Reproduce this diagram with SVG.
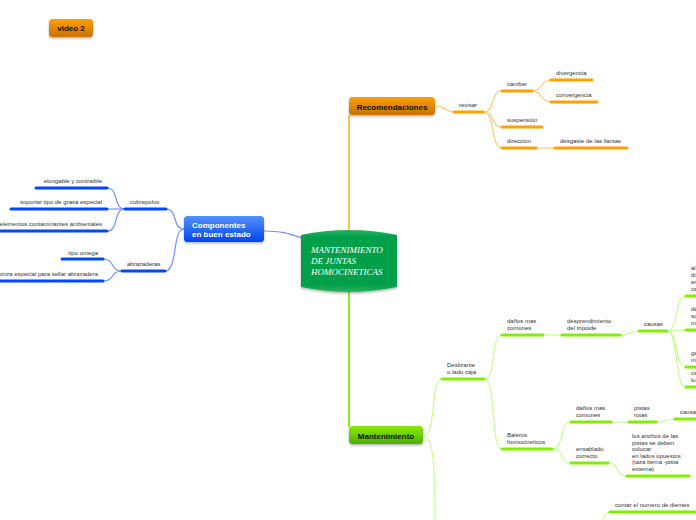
<svg xmlns="http://www.w3.org/2000/svg" width="696" height="520" viewBox="0 0 696 520">
<defs>
<linearGradient id="gOr" x1="0" y1="0" x2="0" y2="1"><stop offset="0" stop-color="#FFA000"/><stop offset="1" stop-color="#C87000"/></linearGradient>
<linearGradient id="gBl" x1="0" y1="0" x2="0" y2="1"><stop offset="0" stop-color="#5590FF"/><stop offset="1" stop-color="#0046E8"/></linearGradient>
<linearGradient id="gGr" x1="0" y1="0" x2="0" y2="1"><stop offset="0" stop-color="#8CEB00"/><stop offset="1" stop-color="#4CB000"/></linearGradient>
<linearGradient id="gC" x1="0" y1="0" x2="0" y2="1"><stop offset="0" stop-color="#2AB060"/><stop offset="0.12" stop-color="#00A04C"/><stop offset="0.88" stop-color="#00A04C"/><stop offset="1" stop-color="#2AB060"/></linearGradient>
<filter id="sh" x="-20%" y="-30%" width="140%" height="170%"><feDropShadow dx="0" dy="1.5" stdDeviation="1.2" flood-color="#000" flood-opacity="0.3"/></filter>
</defs>
<style>
text{font-family:"Liberation Sans",Arial,sans-serif}
.t{font-size:6px;fill:#333}
.n{font-size:8px;font-weight:bold}
.c{fill:none;stroke-width:1.2}
.u{fill:none;stroke-width:3;stroke-linecap:round}
.co{stroke:#FFC870}.uo{stroke:#FFA000}
.cb{stroke:#6E90FF}.ub{stroke:#0048FF}
.cg{stroke:#C6FF90}.ug{stroke:#80F000}
</style>
<g id="connectors">
<path class="c cb" d="M264,231 C284,231 290,234 302,238"/>
<path class="c cb" d="M184,229 C172,229 178,209 166,209"/>
<path class="c cb" d="M184,229 C172,229 178,271 165,271"/>
<path class="c cb" d="M125,209 C113,209 119,188 107,188"/>
<path class="c cb" d="M125,209 L107,209"/>
<path class="c cb" d="M125,209 C113,209 119,231 107,231"/>
<path class="c cb" d="M122,271 C110,271 115,259 103,259"/>
<path class="c cb" d="M122,271 C110,271 115,281 103,281"/>
<path fill="none" stroke="#FFB030" stroke-width="1.6" d="M349,115 L349,231"/>
<path class="c co" d="M435,106 C446,106 444,112 454,112"/>
<path class="c co" d="M483,112 C496,112 490,91 502,91"/>
<path class="c co" d="M483,112 C496,112 490,127 502,127"/>
<path class="c co" d="M483,112 C496,112 490,148 502,148"/>
<path class="c co" d="M532,91 C543,91 540,80 551,80"/>
<path class="c co" d="M532,91 C543,91 540,102 551,102"/>
<path class="c co" d="M536,148 L555,148"/>
<path fill="none" stroke="#88F020" stroke-width="2" d="M349,292 L349,427"/>
<path class="c cg" d="M423,436 C437,436 430,379 442,379"/>
<path class="c cg" d="M423,436 C434,436 435,470 435,520"/>
<path class="c cg" d="M484,379 C497,379 490,335 502,335"/>
<path class="c cg" d="M484,379 C497,379 490,449 502,449"/>
<path class="c cg" d="M543,335 L562,335"/>
<path class="c cg" d="M620,335 C630,335 630,331 639,331"/>
<path class="c cg" d="M667,331 C679,331 674,296 686,296"/>
<path class="c cg" d="M667,331 L686,330"/>
<path class="c cg" d="M667,331 C679,331 674,367 686,367"/>
<path class="c cg" d="M667,331 C679,331 674,387 686,387"/>
<path class="c cg" d="M552,449 C565,449 559,422 571,422"/>
<path class="c cg" d="M552,449 C565,449 559,463 571,463"/>
<path class="c cg" d="M611,422 L629,422"/>
<path class="c cg" d="M656,422 C666,422 665,419 675,419"/>
<path class="c cg" d="M608,463 C620,463 615,476 627,476"/>
<path class="c cg" d="M603,520 C605,514 606,512 610,512"/>
</g>
<g id="video2"><rect x="49" y="19" width="44" height="18" rx="3.5" fill="url(#gOr)" filter="url(#sh)"/><text class="n" x="71" y="31" text-anchor="middle" fill="#111">video 2</text></g>
<g id="central"><path d="M301,235 Q349,225 397,235 V287 Q349,297 301,287 Z" fill="url(#gC)" filter="url(#sh)"/>
<text x="311" y="253" font-family="Liberation Serif,serif" font-style="italic" font-size="9" fill="#fff" style="font-family:'Liberation Serif',serif">MANTENIMIENTO</text>
<text x="311" y="264" font-style="italic" font-size="9" fill="#fff" style="font-family:'Liberation Serif',serif">DE JUNTAS</text>
<text x="311" y="275" font-style="italic" font-size="9" fill="#fff" style="font-family:'Liberation Serif',serif">HOMOCINETICAS</text></g>
<g id="recomendaciones"><rect x="349" y="97" width="86" height="18" rx="3.5" fill="url(#gOr)" filter="url(#sh)"/><text class="n" x="392" y="110" text-anchor="middle" fill="#111">Recomendaciones</text></g>
<g id="componentes"><rect x="184" y="216" width="80" height="26" rx="3.5" fill="url(#gBl)" filter="url(#sh)"/><text class="n" x="192" y="227.5" fill="#fff">Componentes</text><text class="n" x="192" y="237" fill="#fff">en buen estado</text></g>
<g id="mantenimiento"><rect x="349" y="426" width="74" height="18" rx="3.5" fill="url(#gGr)" filter="url(#sh)"/><text class="n" x="386" y="438.5" text-anchor="middle" fill="#111">Mantenimiento</text></g>
<g id="cubrepolvo"><path class="u ub" d="M125,209 H166"/><text class="t" x="130" y="204">cubrepolvo</text></g>
<g id="elongable"><path class="u ub" d="M36,188 H107"/><text class="t" x="102" y="183" text-anchor="end">elongable y contraible</text></g>
<g id="soportar"><path class="u ub" d="M11,209 H107"/><text class="t" x="102" y="204" text-anchor="end">soportar tipo de grasa especial</text></g>
<g id="elementos"><path class="u ub" d="M-5,231 H107"/><text class="t" x="102" y="226" text-anchor="end">elementos contaminantes ambientales</text></g>
<g id="abrazaderas"><path class="u ub" d="M122,271 H165"/><text class="t" x="127" y="266">abrazaderas</text></g>
<g id="omega"><path class="u ub" d="M62,259 H103"/><text class="t" x="98" y="254.5" text-anchor="end">tipo omega</text></g>
<g id="pinza"><path class="u ub" d="M-5,281 H103"/><text class="t" x="98" y="276" text-anchor="end">pinza especial para sellar abrazadera</text></g>
<g id="revisar"><path class="u uo" d="M454,112 H483"/><text class="t" x="459" y="107">revisar</text></g>
<g id="camber"><path class="u uo" d="M502,91 H532"/><text class="t" x="507" y="85.5">camber</text></g>
<g id="divergencia"><path class="u uo" d="M551,80 H592"/><text class="t" x="556" y="75">divergencia</text></g>
<g id="convergencia"><path class="u uo" d="M551,102 H597"/><text class="t" x="556" y="97">convergencia</text></g>
<g id="suspension"><path class="u uo" d="M502,127 H542"/><text class="t" x="507" y="122">suspensión</text></g>
<g id="direccion"><path class="u uo" d="M502,148 H536"/><text class="t" x="507" y="143">dirección</text></g>
<g id="desgaste"><path class="u uo" d="M555,148 H627"/><text class="t" x="560" y="143">desgaste de las llantas</text></g>
<g id="deslizante"><path class="u ug" d="M442,379 H484"/><text class="t" x="447" y="367">Deslizante</text><text class="t" x="447" y="374">o lado caja</text></g>
<g id="danos1"><path class="u ug" d="M502,335 H543"/><text class="t" x="507" y="323">daños mas</text><text class="t" x="507" y="330">comunes</text></g>
<g id="desprendimiento"><path class="u ug" d="M562,335 H620"/><text class="t" x="567" y="323">desprendimiento</text><text class="t" x="567" y="330">del tripoide</text></g>
<g id="causas"><path class="u ug" d="M639,331 H667"/><text class="t" x="644" y="325.5">causas</text></g>
<g id="causa1"><path class="u ug" d="M686,296 H700"/><text class="t" x="691" y="270">al</text><text class="t" x="691" y="277">di</text><text class="t" x="691" y="284">er</text><text class="t" x="691" y="291">ca</text></g>
<g id="causa2"><path class="u ug" d="M686,330 H700"/><text class="t" x="691" y="311">da</text><text class="t" x="691" y="318">so</text><text class="t" x="691" y="325">m</text></g>
<g id="causa3"><path class="u ug" d="M686,367 H700"/><text class="t" x="691" y="355">ga</text><text class="t" x="691" y="362">m</text></g>
<g id="causa4"><path class="u ug" d="M686,387 H700"/><text class="t" x="691" y="375">ca</text><text class="t" x="691" y="382">lo</text></g>
<g id="baleros"><path class="u ug" d="M502,449 H552"/><text class="t" x="507" y="437">Baleros</text><text class="t" x="507" y="444">homocineticos</text></g>
<g id="danos2"><path class="u ug" d="M571,422 H611"/><text class="t" x="576" y="410">daños mas</text><text class="t" x="576" y="417">comunes</text></g>
<g id="pistas"><path class="u ug" d="M629,422 H656"/><text class="t" x="634" y="410">pistas</text><text class="t" x="634" y="417">rotas</text></g>
<g id="causa"><path class="u ug" d="M675,419 H700"/><text class="t" x="680" y="413.5">causa</text></g>
<g id="ensablado"><path class="u ug" d="M571,463 H608"/><text class="t" x="576" y="451">ensablado</text><text class="t" x="576" y="458">correcto</text></g>
<g id="anchos"><path class="u ug" d="M627,476 H689"/><text class="t" x="632" y="438">los anchos de las</text><text class="t" x="632" y="444.6">pistas se deben</text><text class="t" x="632" y="451.2">colocar</text><text class="t" x="632" y="457.8">en lados opuestos</text><text class="t" x="632" y="464.4">(taza iterna -pista</text><text class="t" x="632" y="471">externa)</text></g>
<g id="contar"><path class="u ug" d="M610,512 H695"/><text class="t" x="615" y="507">contar el numero de dientes</text></g>
</svg>
